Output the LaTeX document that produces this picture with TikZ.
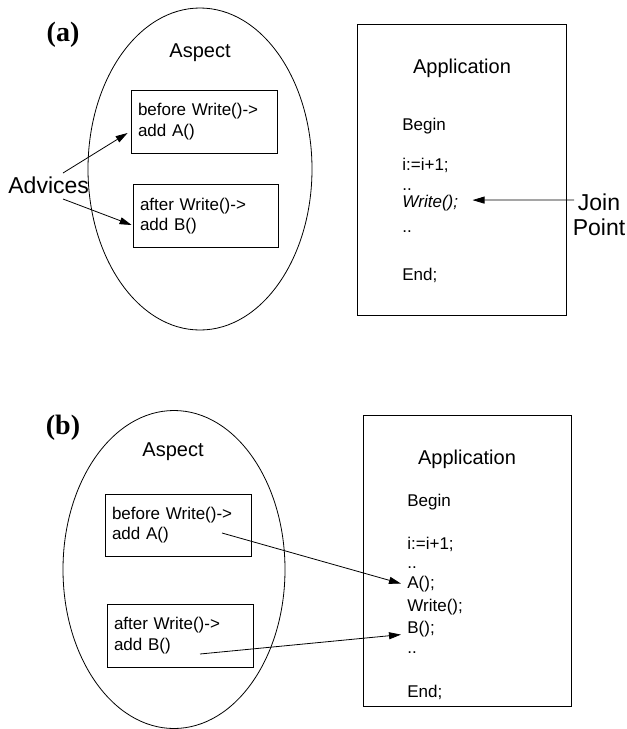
\documentclass[tikz,border=0pt]{standalone}
\usepackage{fontspec}
\setmainfont{Liberation Sans}
\newfontfamily\serifbf{Liberation Serif}
\usetikzlibrary{shapes.geometric,arrows.meta,calc}
\begin{document}
\begin{tikzpicture}[x=1pt,y=-1pt,
  line width=0.8pt,
  code/.style={font=\fontsize{17}{20}\selectfont, inner sep=0pt, anchor=base west},
  ttl/.style={font=\fontsize{20}{24}\selectfont, inner sep=0pt, anchor=base},
  big/.style={font=\fontsize{23}{25}\selectfont, inner sep=0pt},
  panel/.style={font=\fontsize{28}{28}\serifbf\bfseries, inner sep=0pt},
  aspectell/.style={draw, ellipse, inner sep=0pt},
  advbox/.style={draw, rectangle, align=left, font=\fontsize{17}{20.5}\selectfont,
     inner xsep=7pt, inner ysep=0pt, minimum height=63pt},
  appbox/.style={draw, rectangle, inner sep=0pt},
  arr/.style={-{Triangle[length=12pt,width=7pt]}}]
\useasboundingbox (0,0) rectangle (627,729);

% ---------------- (a) ----------------
\node[panel] (pa) at (63,35) {(a)};
\node[aspectell, minimum width=224pt, minimum height=322pt] (ella) at (200,169) {};
\node[ttl] (aspa) at (200,57) {Aspect};
\node[advbox, text width=132pt] (b1a) at (204,121.5) {before Write()->\\add A()};
\node[advbox, text width=131pt] (b2a) at (205.5,216) {after Write()->\\add B()};
\node[big, anchor=base west] (adv) at (8,193) {Advices};
\coordinate (advs1) at (63,173);
\coordinate (advs2) at (63,199);
\draw[arr] (advs1) -- ($(b1a.west)+(-3,11.5)$);
\draw[arr] (advs2) -- ($(b2a.west)+(-1,9)$);

\node[appbox, minimum width=209pt, minimum height=291pt] (appa) at (461.5,169.5) {};
\node[ttl] (appta) at (462,73) {Application};
\node[code] (begina) at (402,130) {Begin};
\node[code] (inca) at (402,170) {i:=i+1;};
\node[code] (dota1) at (402,190.5) {..};
\node[code] (writea) at (402,207) {\itshape Write();};
\node[code] (dota2) at (402,232) {..};
\node[code] (enda) at (402,280) {End;};
\node[big, align=center] (jp) at (599,215) {Join\\Point};
\coordinate (jps) at (574,200);
\draw[arr] (jps) -- ($(writea.east)+(14,-2.5)$);

% ---------------- (b) ----------------
\node[panel] (pb) at (63,428) {(b)};
\node[aspectell, minimum width=222pt, minimum height=318pt] (ellb) at (174,569.5) {};
\node[ttl] (aspb) at (173,456) {Aspect};
\node[advbox, text width=132pt, minimum height=62pt] (b1b) at (178,525) {before Write()->\\add A()};
\node[advbox, text width=132pt] (b2b) at (180,635.5) {after Write()->\\add B()};

\node[appbox, minimum width=208pt, minimum height=291pt] (appb) at (467,560.5) {};
\node[ttl] (apptb) at (467,464) {Application};
\node[code] (beginb) at (407,506) {Begin};
\node[code] (incb) at (407,549) {i:=i+1;};
\node[code] (dotb1) at (407,568) {..};
\node[code] (Ab) at (407,588) {A();};
\node[code] (writeb) at (407,611) {Write();};
\node[code] (Bb) at (407,633) {B();};
\node[code] (dotb2) at (407,653) {..};
\node[code] (endb) at (407,697) {End;};

\coordinate (sA) at (222,533);
\coordinate (sB) at (200,654);
\draw[arr] (sA) -- ($(Ab.west)+(-6,0)$);
\draw[arr] (sB) -- ($(Bb.west)+(-6,6)$);
\end{tikzpicture}
\end{document}
